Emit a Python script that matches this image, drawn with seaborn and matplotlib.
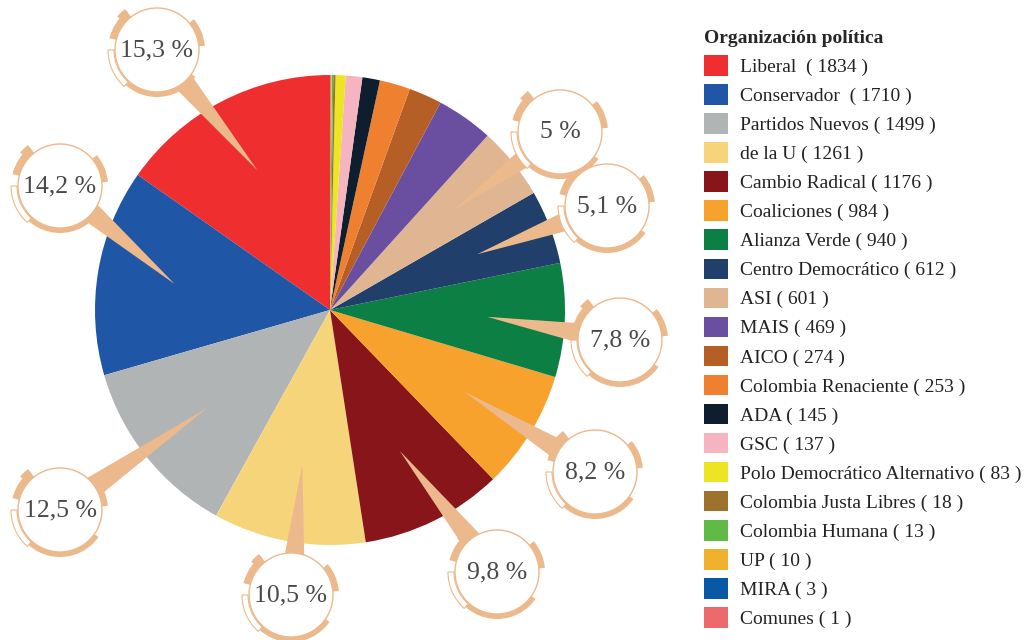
import numpy as np
import matplotlib
matplotlib.use("Agg")
import matplotlib.pyplot as plt
from matplotlib.patches import Circle, Wedge, Polygon, Patch
import seaborn as sns

# data
parties = ["Liberal", "Conservador", "Partidos Nuevos", "de la U", "Cambio Radical",
           "Coaliciones", "Alianza Verde", "Centro Democrático", "ASI", "MAIS", "AICO",
           "Colombia Renaciente", "ADA", "GSC", "Polo Democrático Alternativo",
           "Colombia Justa Libres", "Colombia Humana", "UP", "MIRA", "Comunes"]
counts = [1834, 1710, 1499, 1261, 1176, 984, 940, 612, 601, 469, 274, 253,
          145, 137, 83, 18, 13, 10, 3, 1]
colors = ["#EE2E2F", "#2056A6", "#B1B4B5", "#F5D47A", "#87151A", "#F6A22D",
          "#0B7F44", "#213F6B", "#DFB592", "#6A4FA0", "#B55E26", "#EE8030",
          "#0F1E2E", "#F5B4C0", "#EDE523", "#9C722C", "#61B946", "#F0B12D",
          "#0858A6", "#EC6A6B"]

# badge centres (pixels from top-left) for the 9 biggest slices
badge_pos = [(157, 50), (60, 186), (60, 510), (291, 595), (497, 572),
             (595, 472), (620, 340), (607, 206), (560, 132)]

W, H = 1029, 640
TAN = "#EBB98B"
sns.set_theme(style="white")
plt.rcParams["font.family"] = ["Liberation Serif", "DejaVu Serif"]

fig = plt.figure(figsize=(W / 100, H / 100), dpi=100)
ax = fig.add_axes([0, 0, 1, 1])

cx, cy, R = 330, H - 310, 235
wedges, _ = ax.pie(counts, colors=colors, startangle=90, counterclock=True,
                   center=(cx, cy), radius=R, wedgeprops=dict(linewidth=0))
ax.set_xlim(0, W)
ax.set_ylim(0, H)
ax.set_aspect("equal")
ax.axis("off")

total = sum(counts)
rb = 42
for i, (bx, by) in enumerate(badge_pos):
    by = H - by
    w = wedges[i]
    mid = np.deg2rad((w.theta1 + w.theta2) / 2)
    tx, ty = cx + 0.67 * R * np.cos(mid), cy + 0.67 * R * np.sin(mid)
    # pointer
    d = np.array([tx - bx, ty - by])
    n = np.array([-d[1], d[0]]) / np.hypot(*d) * 14
    ax.add_patch(Polygon([(bx + n[0], by + n[1]), (bx - n[0], by - n[1]), (tx, ty)],
                         closed=True, fc=TAN, ec="none", zorder=3))
    # decorative arcs
    ax.add_patch(Wedge((bx, by), rb + 5, 215, 325, width=5.5, fc=TAN, ec="none", zorder=4))
    ax.add_patch(Wedge((bx, by), rb + 6, 5, 40, width=6, fc=TAN, ec="none", zorder=4))
    ax.add_patch(Wedge((bx, by), rb + 7, 128, 166, width=7, fc=TAN, ec="none", zorder=4))
    ax.add_patch(Wedge((bx, by), rb + 10, 128, 140, width=5, fc=TAN, ec="none", zorder=4))
    ax.add_patch(Wedge((bx, by), rb + 7, 180, 228, width=6, fc="white", ec=TAN,
                       lw=0.8, zorder=4))
    ax.add_patch(Circle((bx, by), rb, fc="white", ec=TAN, lw=1.0, zorder=5))
    pct = f"{100 * counts[i] / total:.1f}".replace(".", ",")
    if pct.endswith(",0"):
        pct = pct[:-2]
    ax.text(bx, by, f"{pct} %", ha="center", va="center", fontsize=18.5,
            color="#4A4A4A", zorder=6)

# legend
labels = []
for i, (p, c) in enumerate(zip(parties, counts)):
    sep = "  " if i < 2 else " "
    labels.append(f"{p}{sep}( {c} )")
handles = [Patch(fc=c, ec="none") for c in colors]
leg = fig.legend(handles, labels, loc="upper left",
                 bbox_to_anchor=(704 / W, 1 - 30 / H), frameon=False,
                 fontsize=14, title="Organización política",
                 title_fontproperties={"weight": "bold", "size": 14},
                 alignment="left", handlelength=1.25, handleheight=1.25,
                 handletextpad=0.6, labelspacing=0.42, borderpad=0,
                 borderaxespad=0)
for t in leg.get_texts():
    t.set_color("#222222")

fig.savefig("out.png", dpi=100, facecolor="white")
